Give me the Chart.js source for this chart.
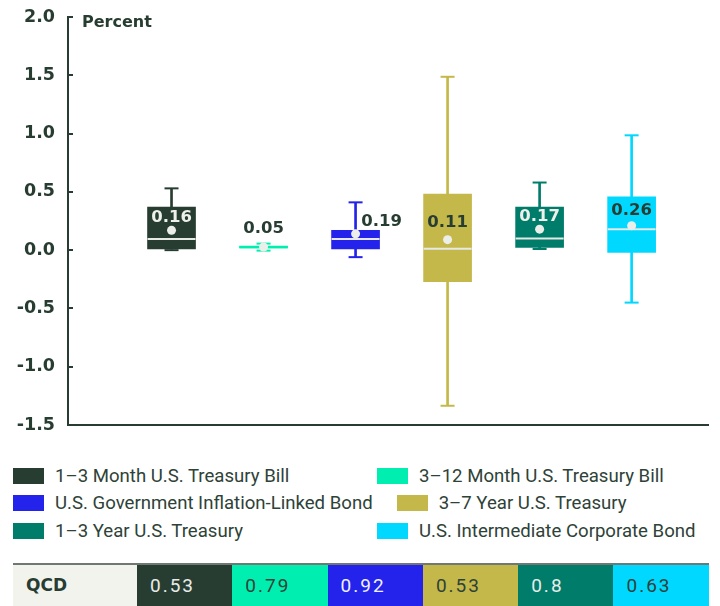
<!DOCTYPE html>
<html>
<head>
<meta charset="utf-8">
<script src="https://cdn.jsdelivr.net/npm/chart.js@4.4.1/dist/chart.umd.min.js"></script>
<style>
  body { margin: 0; width: 720px; height: 606px; position: relative; background: #fff; overflow: hidden; }
  #legend { position: absolute; left: 13px; top: 462px; width: 740px; display: flex; flex-wrap: wrap; column-gap: 24px; }
  .item { display: flex; align-items: center; min-width: 340px; height: 27.6px; font: 18.6px Roboto, sans-serif; color: #2e4238; white-space: nowrap; }
  .swatch { width: 31px; height: 16px; margin-right: 11px; flex: none; }
  #qcd { position: absolute; left: 13px; top: 563px; display: flex; border-top: 2px solid #6f7872; }
  #qcd div { height: 41px; box-sizing: border-box; padding-left: 13px; }
  #qcd .head { width: 124px; background: #f3f3ee; font: bold 17px "DejaVu Sans", sans-serif; line-height: 41px; color: #283d32; }
  #qcd .val { width: 95.3px; font: 19px Roboto, sans-serif; line-height: 41px; letter-spacing: 2px; }
</style>
</head>
<body>
<canvas id="chart" width="720" height="440"></canvas>
<div id="legend"></div>
<div id="qcd"></div>
<script>
const categories = ['1–3 Month U.S. Treasury Bill', '3–12 Month U.S. Treasury Bill', 'U.S. Government Inflation-Linked Bond',
                    '3–7 Year U.S. Treasury', '1–3 Year U.S. Treasury', 'U.S. Intermediate Corporate Bond'];
const whiskerMin = [0.0, -0.004, -0.06, -1.335, 0.01, -0.45];
const q1 = [0.01, 0.018, 0.01, -0.27, 0.024, -0.02];
const median = [0.096, 0.025, 0.096, 0.013, 0.099, 0.18];
const q3 = [0.37, 0.034, 0.17, 0.48, 0.37, 0.457];
const whiskerMax = [0.53, 0.056, 0.41, 1.487, 0.58, 0.985];
const means = [0.17, 0.027, 0.14, 0.09, 0.18, 0.21];
const meanLabels = ['0.16', '0.05', '0.19', '0.11', '0.17', '0.26'];
const qcdValues = [0.53, 0.79, 0.92, 0.53, 0.8, 0.63];
const yTicks = [-1.5, -1.0, -0.5, 0.0, 0.5, 1.0, 1.5, 2.0];

const colors = ['#283d32', '#00efb0', '#2323eb', '#c4b84b', '#007c6b', '#00d8ff'];
const textOnColor = ['#e8ece9', '#2e4238', '#eef0ff', '#2e4238', '#e8ece9', '#2e4238'];
const labelColors = ['#eef0ec', '#283d32', '#283d32', '#283d32', '#eef0ec', '#283d32'];
const labelOffsets = [[0, -13], [0, -18], [26, -12], [0, -17], [0, -12], [0, -15]];
const medianColors = colors.map((c, i) => i === 1 ? c : '#e6e9e4');
const dark = '#283d32';

const xs = categories.map((c, i) => i);

// mean value labels + the "Percent" unit
const meanLabelPlugin = {
    id: 'meanLabels',
    afterDatasetsDraw(chart) {
        const ctx = chart.ctx;
        const meta = chart.getDatasetMeta(0);
        ctx.save();
        ctx.font = 'bold 16.5px "DejaVu Sans", sans-serif';
        ctx.textAlign = 'center';
        ctx.textBaseline = 'middle';
        meta.data.forEach((pt, i) => {
            ctx.fillStyle = labelColors[i];
            ctx.fillText(meanLabels[i], pt.x + labelOffsets[i][0], pt.y + labelOffsets[i][1]);
        });
        ctx.font = 'bold 16px "DejaVu Sans", sans-serif';
        ctx.textAlign = 'left';
        ctx.fillStyle = dark;
        ctx.fillText('Percent', chart.chartArea.left + 14, chart.scales.y.getPixelForValue(2.0) + 6);
        ctx.restore();
    }
};

new Chart(document.getElementById('chart'), {
    type: 'bar',
    data: {
        datasets: [
            {
                type: 'line', label: 'Mean', order: 1, showLine: false,
                data: xs.map(i => ({ x: i, y: means[i] })),
                pointRadius: 4.5, pointBackgroundColor: '#eceeea', pointBorderWidth: 0
            },
            {
                type: 'line', label: 'Median', order: 2, showLine: false,
                data: xs.map(i => ({ x: i, y: median[i] })),
                pointStyle: 'line', pointRadius: 24, pointBorderWidth: 2, pointBorderColor: medianColors
            },
            {
                label: 'Box', order: 3, grouped: false, barThickness: 48,
                data: xs.map(i => ({ x: i, y: [q1[i], q3[i]] })),
                backgroundColor: colors
            },
            {
                type: 'line', label: 'Max', order: 4, showLine: false,
                data: xs.map(i => ({ x: i, y: whiskerMax[i] })),
                pointStyle: 'line', pointRadius: 7, pointBorderWidth: 2, pointBorderColor: colors
            },
            {
                type: 'line', label: 'Min', order: 4, showLine: false,
                data: xs.map(i => ({ x: i, y: whiskerMin[i] })),
                pointStyle: 'line', pointRadius: 7, pointBorderWidth: 2, pointBorderColor: colors
            },
            {
                label: 'Whisker', order: 5, grouped: false, barThickness: 2,
                data: xs.map(i => ({ x: i, y: [whiskerMin[i], whiskerMax[i]] })),
                backgroundColor: colors
            }
        ]
    },
    options: {
        responsive: false,
        animation: false,
        events: [],
        layout: { autoPadding: false, padding: { top: 17, right: 12, bottom: 15, left: 0 } },
        plugins: { legend: { display: false }, tooltip: { enabled: false } },
        scales: {
            x: {
                type: 'linear', min: -1.125, max: 5.83, bounds: 'data', offset: false,
                afterFit: scale => { scale.height = 0; scale.paddingLeft = 0; scale.paddingRight = 0; },
                ticks: { display: false },
                grid: { display: false },
                border: { display: true, color: dark, width: 2 }
            },
            y: {
                min: -1.5, max: 2.0,
                afterBuildTicks: scale => { scale.ticks = yTicks.map(v => ({ value: v })); },
                afterFit: scale => { scale.width = 68; scale.paddingTop = 0; scale.paddingBottom = 0; },
                ticks: {
                    padding: 18,
                    color: dark,
                    font: { family: '"DejaVu Sans", sans-serif', size: 17.5, weight: 'bold' },
                    callback: v => v.toFixed(1)
                },
                grid: { drawOnChartArea: false, drawTicks: true, tickLength: -5, color: dark, lineWidth: 2 },
                border: { display: true, color: dark, width: 2 }
            }
        }
    },
    plugins: [meanLabelPlugin]
});

const legend = document.getElementById('legend');
categories.forEach((c, i) => {
    const item = document.createElement('div');
    item.className = 'item';
    item.innerHTML = '<span class="swatch" style="background:' + colors[i] + '"></span><span>' + c + '</span>';
    legend.appendChild(item);
});

const table = document.getElementById('qcd');
const head = document.createElement('div');
head.className = 'head';
head.textContent = 'QCD';
table.appendChild(head);
qcdValues.forEach((v, i) => {
    const cell = document.createElement('div');
    cell.className = 'val';
    cell.style.background = colors[i];
    cell.style.color = textOnColor[i];
    cell.textContent = String(v);
    table.appendChild(cell);
});
</script>
</body>
</html>
